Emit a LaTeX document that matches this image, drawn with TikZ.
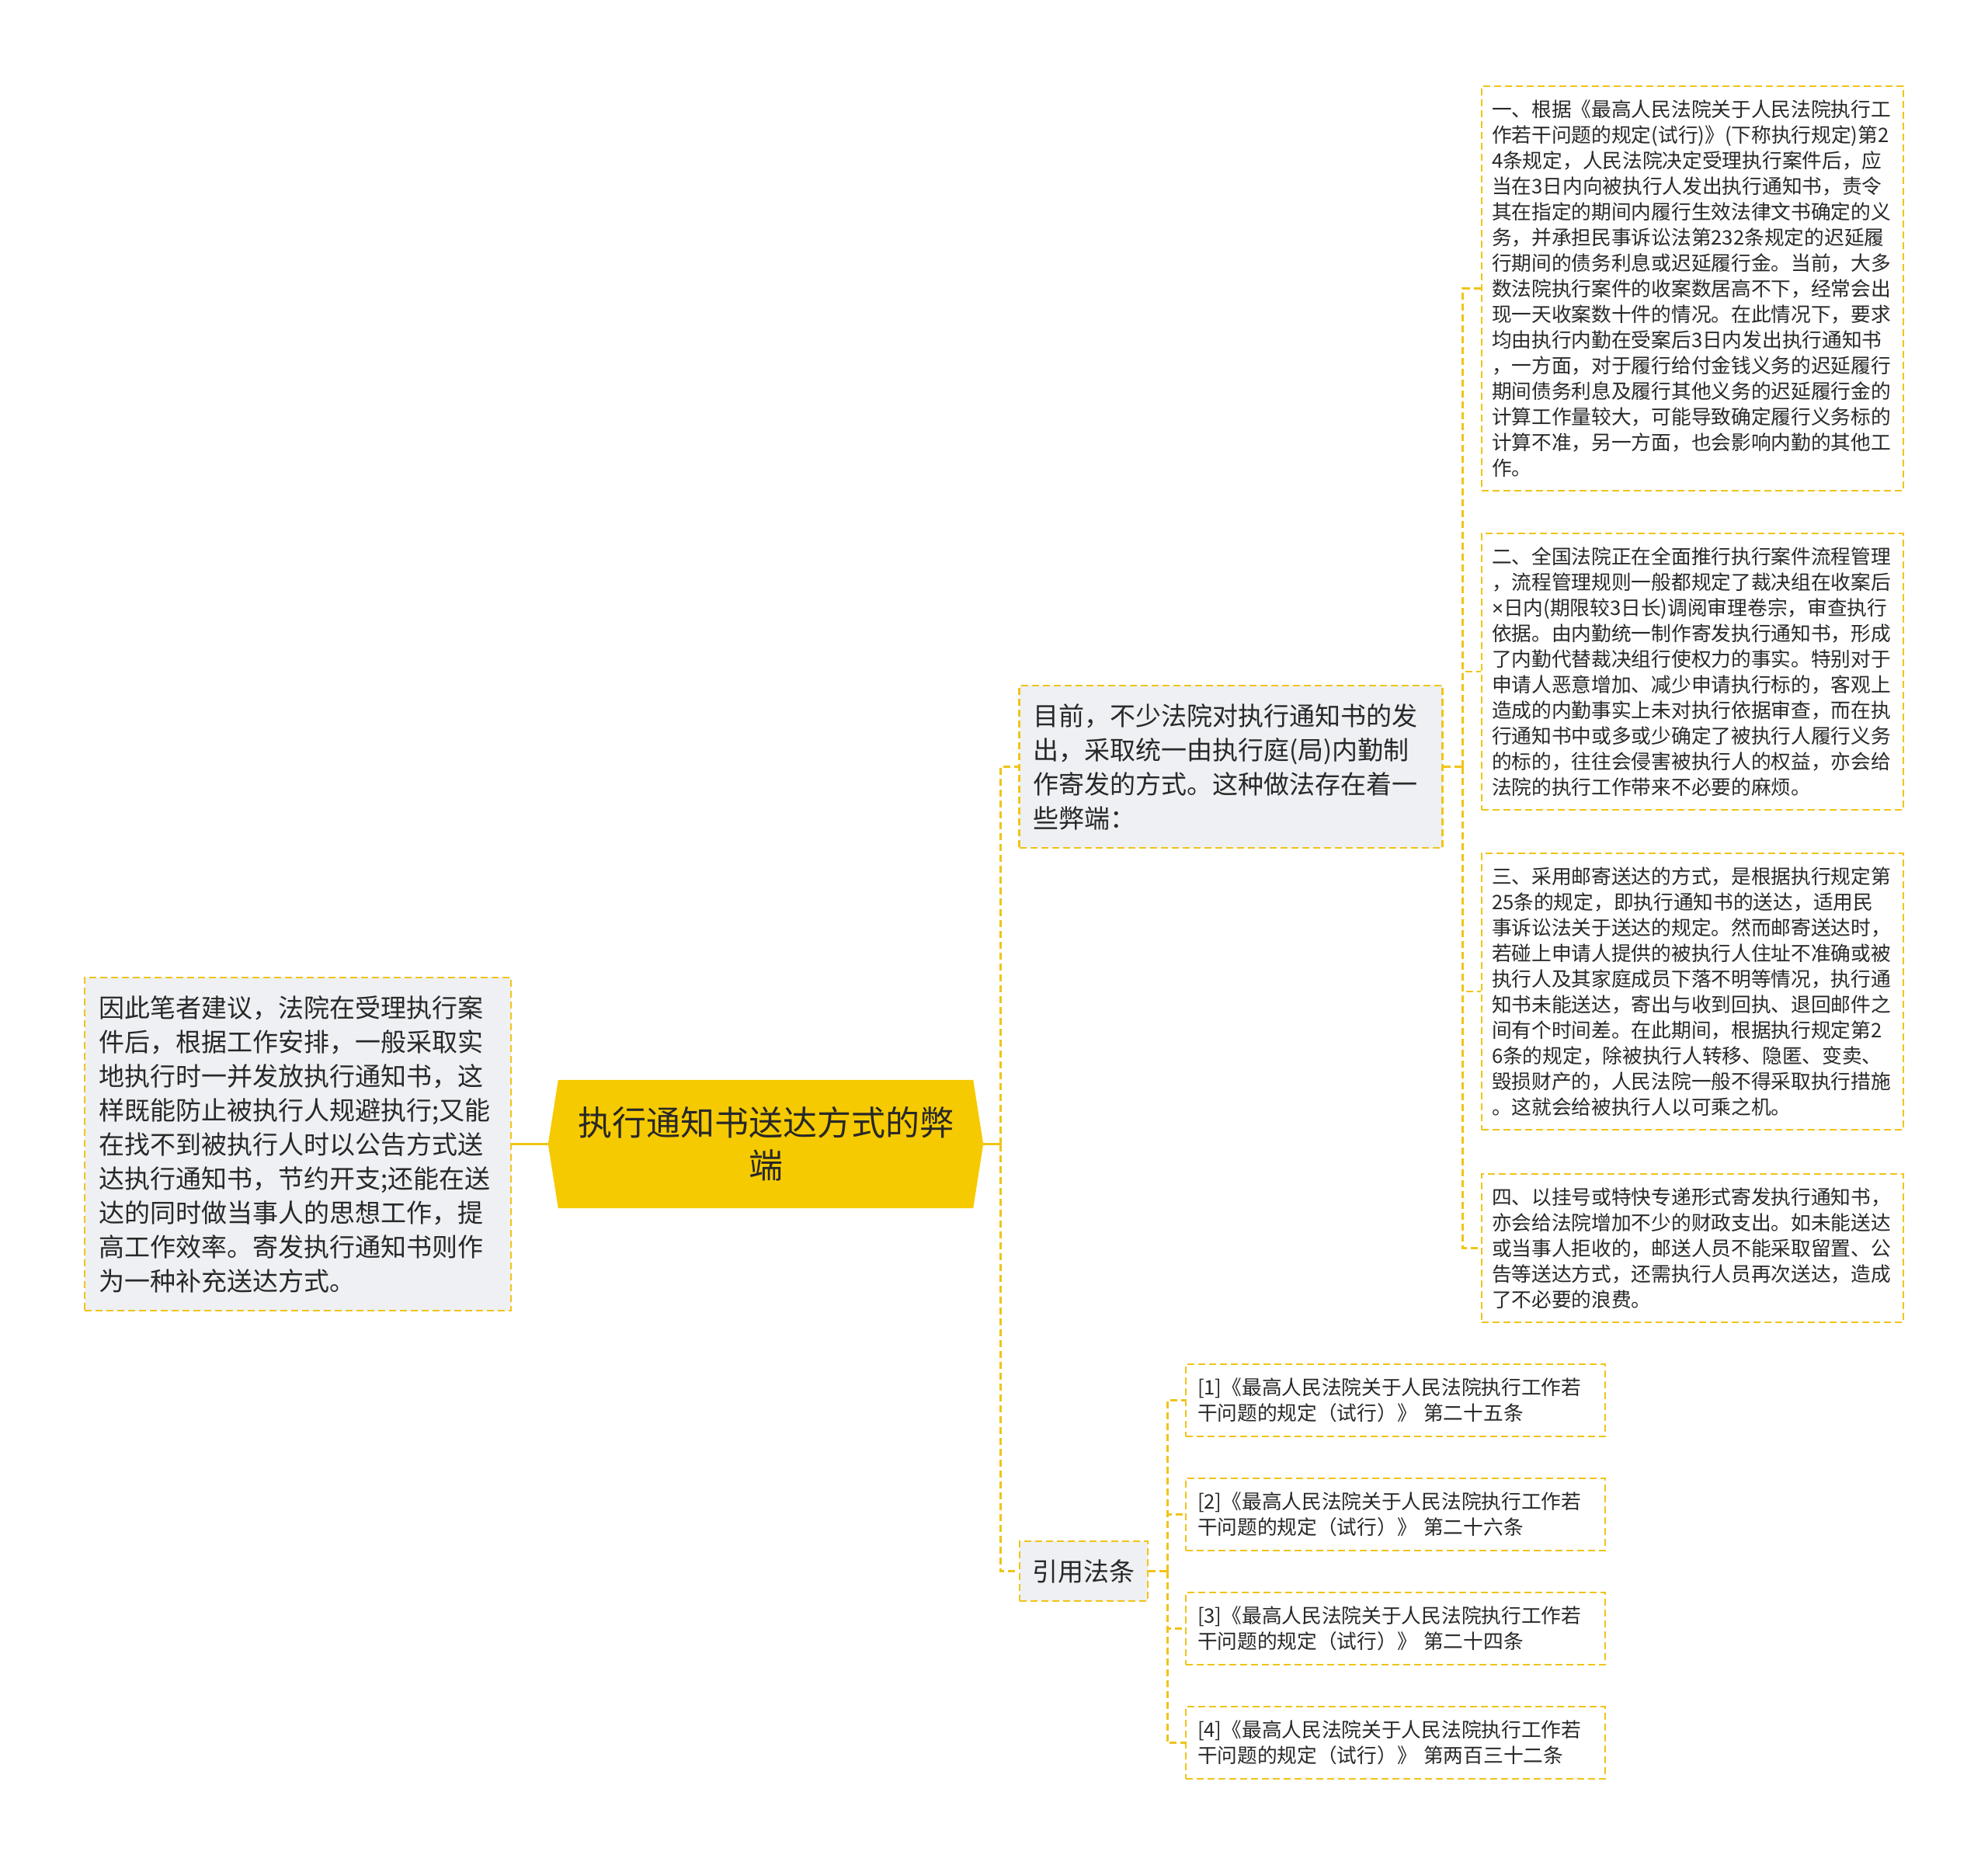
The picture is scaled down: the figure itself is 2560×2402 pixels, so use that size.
\documentclass[tikz,border=0pt]{standalone}
\usepackage{fontspec}
\setmainfont{Noto Sans CJK SC}
\newfontfamily\latinfont{Liberation Sans}
\usetikzlibrary{backgrounds}
\definecolor{gold}{RGB}{240,196,24}
\definecolor{rootgold}{RGB}{246,202,0}
\definecolor{pane}{RGB}{238,240,243}
\definecolor{ink}{RGB}{40,40,40}
\begin{document}
\begin{tikzpicture}[
            x=1pt, y=-1pt,
            every node/.style = {inner sep=0pt, text=ink, font=\fontsize{25.7}{33}\selectfont},
            topic/.style = {draw=gold, fill=pane, line width=2.4pt, dash pattern=on 9pt off 5pt, align=left, font=\fontsize{33}{44}\selectfont},
            leaf/.style = {draw=gold, line width=2.4pt, dash pattern=on 9pt off 5pt, align=left},
            link/.style = {draw=gold, line width=2.6pt, dash pattern=on 9pt off 5pt},
            stem/.style = {draw=gold, line width=2.6pt}
          ]
          \useasboundingbox (0,0) rectangle (2560,2402);
          \node[minimum width=534pt, minimum height=165pt, align=center, font=\fontsize{44}{55}\selectfont] (root) at (986,1473.5) {执行通知书送达方式的弊\\端};
          \begin{scope}[on background layer]
            \fill[rootgold] (root.north west) -- (root.north east) -- ([xshift=13pt]root.east) -- (root.south east) -- (root.south west) -- ([xshift=-13pt]root.west) -- cycle;
          \end{scope}
          \node[topic, text width=513pt, inner xsep=18pt, minimum height=429pt] (advice) at (383.5,1473.5) {因此笔者建议，法院在受理执行案\\件后，根据工作安排，一般采取实\\地执行时一并发放执行通知书，这\\样既能防止被执行人规避执行;又能\\在找不到被执行人时以公告方式送\\达执行通知书，节约开支;还能在送\\达的同时做当事人的思想工作，提\\高工作效率。寄发执行通知书则作\\为一种补充送达方式。};
          \node[topic, text width=509pt, inner xsep=18pt, minimum height=209pt] (cur) at (1585,987.5) {目前，不少法院对执行通知书的发\\出，采取统一由执行庭(局)内勤制\\作寄发的方式。这种做法存在着一\\些弊端：};
          \node[topic, minimum width=165pt, minimum height=77pt, align=center] (cite) at (1395.5,2023.5) {引用法条};
          \node[leaf, text width=517pt, inner xsep=13pt, minimum height=521pt] (p1) at (2179.5,371.5) {一、根据《最高人民法院关于人民法院执行工\\作若干问题的规定(试行)》(下称执行规定)第2\\4条规定，人民法院决定受理执行案件后，应\\当在3日内向被执行人发出执行通知书，责令\\其在指定的期间内履行生效法律文书确定的义\\务，并承担民事诉讼法第232条规定的迟延履\\行期间的债务利息或迟延履行金。当前，大多\\数法院执行案件的收案数居高不下，经常会出\\现一天收案数十件的情况。在此情况下，要求\\均由执行内勤在受案后3日内发出执行通知书\\，一方面，对于履行给付金钱义务的迟延履行\\期间债务利息及履行其他义务的迟延履行金的\\计算工作量较大，可能导致确定履行义务标的\\计算不准，另一方面，也会影响内勤的其他工\\作。};
          \node[leaf, text width=517pt, inner xsep=13pt, minimum height=356pt] (p2) at (2179.5,865) {二、全国法院正在全面推行执行案件流程管理\\，流程管理规则一般都规定了裁决组在收案后\\{\latinfont ×}日内(期限较3日长)调阅审理卷宗，审查执行\\依据。由内勤统一制作寄发执行通知书，形成\\了内勤代替裁决组行使权力的事实。特别对于\\申请人恶意增加、减少申请执行标的，客观上\\造成的内勤事实上未对执行依据审查，而在执\\行通知书中或多或少确定了被执行人履行义务\\的标的，往往会侵害被执行人的权益，亦会给\\法院的执行工作带来不必要的麻烦。};
          \node[leaf, text width=517pt, inner xsep=13pt, minimum height=356pt] (p3) at (2179.5,1277) {三、采用邮寄送达的方式，是根据执行规定第\\25条的规定，即执行通知书的送达，适用民\\事诉讼法关于送达的规定。然而邮寄送达时，\\若碰上申请人提供的被执行人住址不准确或被\\执行人及其家庭成员下落不明等情况，执行通\\知书未能送达，寄出与收到回执、退回邮件之\\间有个时间差。在此期间，根据执行规定第2\\6条的规定，除被执行人转移、隐匿、变卖、\\毁损财产的，人民法院一般不得采取执行措施\\。这就会给被执行人以可乘之机。};
          \node[leaf, text width=517pt, inner xsep=13pt, minimum height=191pt] (p4) at (2179.5,1607.5) {四、以挂号或特快专递形式寄发执行通知书，\\亦会给法院增加不少的财政支出。如未能送达\\或当事人拒收的，邮送人员不能采取留置、公\\告等送达方式，还需执行人员再次送达，造成\\了不必要的浪费。};
          \node[leaf, text width=510pt, inner xsep=15pt, minimum height=93pt] (r1) at (1797,1803.5) {[1]《最高人民法院关于人民法院执行工作若\\干问题的规定（试行）》 第二十五条};
          \node[leaf, text width=510pt, inner xsep=15pt, minimum height=93pt] (r2) at (1797,1950.5) {[2]《最高人民法院关于人民法院执行工作若\\干问题的规定（试行）》 第二十六条};
          \node[leaf, text width=510pt, inner xsep=15pt, minimum height=93pt] (r3) at (1797,2097.5) {[3]《最高人民法院关于人民法院执行工作若\\干问题的规定（试行）》 第二十四条};
          \node[leaf, text width=510pt, inner xsep=15pt, minimum height=93pt] (r4) at (1797,2244.5) {[4]《最高人民法院关于人民法院执行工作若\\干问题的规定（试行）》 第两百三十二条};
          \coordinate (hub) at ([xshift=35pt]root.east);
          \coordinate (hubcur) at ([xshift=25pt]cur.east);
          \coordinate (hubcite) at ([xshift=24pt]cite.east);
          \draw[stem] ([xshift=-13pt]root.west) -- (advice.east);
          \draw[stem] ([xshift=13pt]root.east) -- (hub);
          \draw[link] (hub) |- (cur.west);
          \draw[link] (hub) |- (cite.west);
          \draw[link] (cur.east) -- (hubcur);
          \draw[link] (hubcur) |- (p1.west);
          \draw[link] (hubcur) |- (p2.west);
          \draw[link] (hubcur) |- (p3.west);
          \draw[link] (hubcur) |- (p4.west);
          \draw[link] (cite.east) -- (hubcite);
          \draw[link] (hubcite) |- (r1.west);
          \draw[link] (hubcite) |- (r2.west);
          \draw[link] (hubcite) |- (r3.west);
          \draw[link] (hubcite) |- (r4.west);
        \end{tikzpicture}
\end{document}
